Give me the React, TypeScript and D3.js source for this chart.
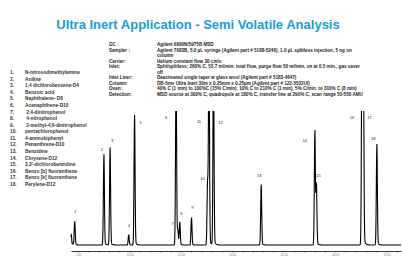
import * as d3 from 'd3'
import { useEffect, useRef } from 'react'

// chromatogram peaks (retention time in min, relative abundance; >100 goes off scale)
const peakIds = ['1', '2', '3', '4', '5', '6', '7', '8', '9', '10', '11', '12', '13', '14', '15', '16', '17', '18']
const retentionTimes = [4.66, 7.5, 8.1, 9.91, 10.48, 14.52, 14.69, 14.88, 16.02, 17.58, 17.72, 18.16, 22.8, 28.02, 28.17, 32.6, 32.74, 34.05]
const peakHeights = [17, 66, 71, 7.5, 94.5, 130, 10, 16.5, 20, 44, 150, 140, 44, 83, 44, 150, 140, 73.5]
// solvent spike at the very start, not labelled
const solventTime = 4.33
const solventHeight = 6

const compounds = [
  'N-nitrosodimethylamine',
  'Aniline',
  '1,4 dichlorobenzene-D4',
  'Benzoic acid',
  'Naphthalene- D8',
  'Acenaphthene-D10',
  ' 2,4-dinitrophenol',
  ' 4-nitrophenol',
  ' 2-methyl-4,6-dinitrophenol',
  'pentachlorophenol',
  '4-aminobiphenyl',
  'Penanthrene-D10',
  'Benzidine',
  'Chrysene-D12',
  '3,3\'-dichlorobenzidine',
  'Benzo [b] fluoranthene',
  'Benzo [k] fluoranthene',
  'Perylene-D12',
]

const infoLabels = ['GC :', 'Sampler :', '', 'Carrier:', 'Inlet:', '', 'Inlet Liner:', 'Column:', 'Oven:', 'Detection:']
const infoValues = [
  'Agilent 6890N/5975B MSD',
  'Agilent 7683B, 5.0 µL syringe (Agilent part # 5188-5246), 1.0 µL splitless injection, 5 ng on',
  'column',
  'Helium constant flow 30 cm/s',
  'Split/splitless; 260% C, 53.7 ml/min. total flow, purge flow 50 ml/min. on at 0.5 min., gas saver',
  'off',
  'Deactivated single taper w glass wool (Agilent part # 5183-4647)',
  'DB-5ms Ultra Inert 30m x 0.25mm x 0.25µm (Agilent part # 122-5532UI)',
  '40% C (1 min) to 100%C (15% C/min), 10% C to 210% C (1 min), 5% C/min. to 310% C (8 min)',
  'MSD source at 300% C, quadrupole at 180% C, transfer line at 290% C, scan range 50-550 AMU',
]

const majorTicks = [5, 10, 15, 20, 25, 30, 35]
const timeRange = [4.3, 36.4]

// label offsets from each peak apex (px)
const labelDx = [0.5, -2, 2, 0.5, 6, -10, -5.5, 1.5, 1, -5, -10, 7, -2, -10, 2, -10, 6, -3.5]
const labelDy = [-10.5, -8, -10, -10, 3, 5, -8, -10, -11, -8, 9, 10, -10.5, 6, -11, 5, 5, -9]

const W = 402
const H = 260
const font = 'Liberation Sans, Arial, sans-serif'

const App = () => {
  const svgRef = useRef(null)

  useEffect(() => {
    const svg = d3.select(svgRef.current)
    svg.selectAll('*').remove()

    // title
    svg
      .append('text')
      .attr('x', 198)
      .attr('y', 29)
      .attr('text-anchor', 'middle')
      .attr('font-family', font)
      .attr('font-weight', 'bold')
      .attr('font-size', 13)
      .attr('fill', '#1b9ad6')
      .text('Ultra Inert Application - Semi Volatile Analysis')

    // instrument conditions
    const infoY = d3.scaleLinear().domain([0, infoLabels.length - 1]).range([46, 96])
    const info = svg.append('g').attr('font-family', font).attr('font-weight', 'bold').attr('font-size', 4.6).attr('fill', '#222')
    info
      .selectAll('.lab')
      .data(infoLabels)
      .enter()
      .append('text')
      .attr('x', 109)
      .attr('y', (d, i) => infoY(i))
      .text((d) => d)
    info
      .selectAll('.val')
      .data(infoValues)
      .enter()
      .append('text')
      .attr('x', 157)
      .attr('y', (d, i) => infoY(i))
      .text((d) => d)

    // compound list
    const listY = d3.scaleLinear().domain([0, compounds.length - 1]).range([74, 186])
    const list = svg.append('g').attr('font-family', font).attr('font-weight', 'bold').attr('font-size', 4.8).attr('fill', '#333')
    list
      .selectAll('.num')
      .data(compounds)
      .enter()
      .append('text')
      .attr('x', 10)
      .attr('y', (d, i) => listY(i))
      .text((d, i) => `${i + 1}.`)
    list
      .selectAll('.name')
      .data(compounds)
      .enter()
      .append('text')
      .attr('x', 25)
      .attr('y', (d, i) => listY(i))
      .attr('xml:space', 'preserve')
      .text((d) => d)

    // chromatogram
    const x = d3.scaleLinear().domain(timeRange).range([71, 401])
    const y = d3.scaleLinear().domain([0, 100]).range([245, 112])

    const sigma = 0.05
    const signal = (t) => {
      let v = solventHeight * Math.exp(-((t - solventTime) ** 2) / (2 * 0.03 ** 2))
      v += 2.5 * Math.exp(-Math.max(t - timeRange[0], 0) / 0.15)
      retentionTimes.forEach((rt, i) => {
        const h = peakHeights[i]
        v += h * Math.exp(-((t - rt) ** 2) / (2 * sigma ** 2))
        // a little tailing
        if (t > rt) v += h * 0.04 * Math.exp(-(t - rt) / 0.12)
      })
      return v
    }
    const times = d3.range(timeRange[0], timeRange[1], 0.005)

    svg
      .append('clipPath')
      .attr('id', 'plotclip')
      .append('rect')
      .attr('x', 60)
      .attr('y', 111)
      .attr('width', 345)
      .attr('height', 140)

    const line = d3
      .line()
      .x((t) => x(t))
      .y((t) => y(signal(t)))

    svg
      .append('path')
      .datum(times)
      .attr('d', line)
      .attr('fill', 'none')
      .attr('stroke', '#000')
      .attr('stroke-width', 1.1)
      .attr('clip-path', 'url(#plotclip)')

    // peak labels
    svg
      .append('g')
      .attr('font-family', font)
      .attr('font-size', 4)
      .attr('fill', '#111')
      .attr('text-anchor', 'middle')
      .selectAll('text')
      .data(peakIds)
      .enter()
      .append('text')
      .attr('x', (d, i) => x(retentionTimes[i]) + labelDx[i])
      .attr('y', (d, i) => Math.max(y(peakHeights[i]), 112) + labelDy[i] + 1.5)
      .text((d) => d)

    // time axis
    const axisG = svg.append('g').attr('transform', 'translate(0,251)')
    axisG.call(
      d3
        .axisBottom(x)
        .tickValues(d3.range(5, 37, 1))
        .tickSize(1.8)
        .tickSizeOuter(0)
        .tickFormat((d) => (majorTicks.includes(d) ? d3.format('.2f')(d) : ''))
    )
    axisG.select('.domain').attr('stroke', '#000').attr('stroke-width', 0.8)
    axisG.selectAll('.tick line').attr('stroke', '#333').attr('stroke-width', 0.5)
    axisG
      .selectAll('.tick text')
      .attr('font-family', font)
      .attr('font-size', 2.8)
      .attr('fill', '#777')
      .attr('dy', 0)
      .attr('y', 5)
  }, [])

  return <svg ref={svgRef} width={W} height={H} style={{ position: 'absolute', left: 0, top: 0, background: '#fff' }}></svg>
}

export default App
